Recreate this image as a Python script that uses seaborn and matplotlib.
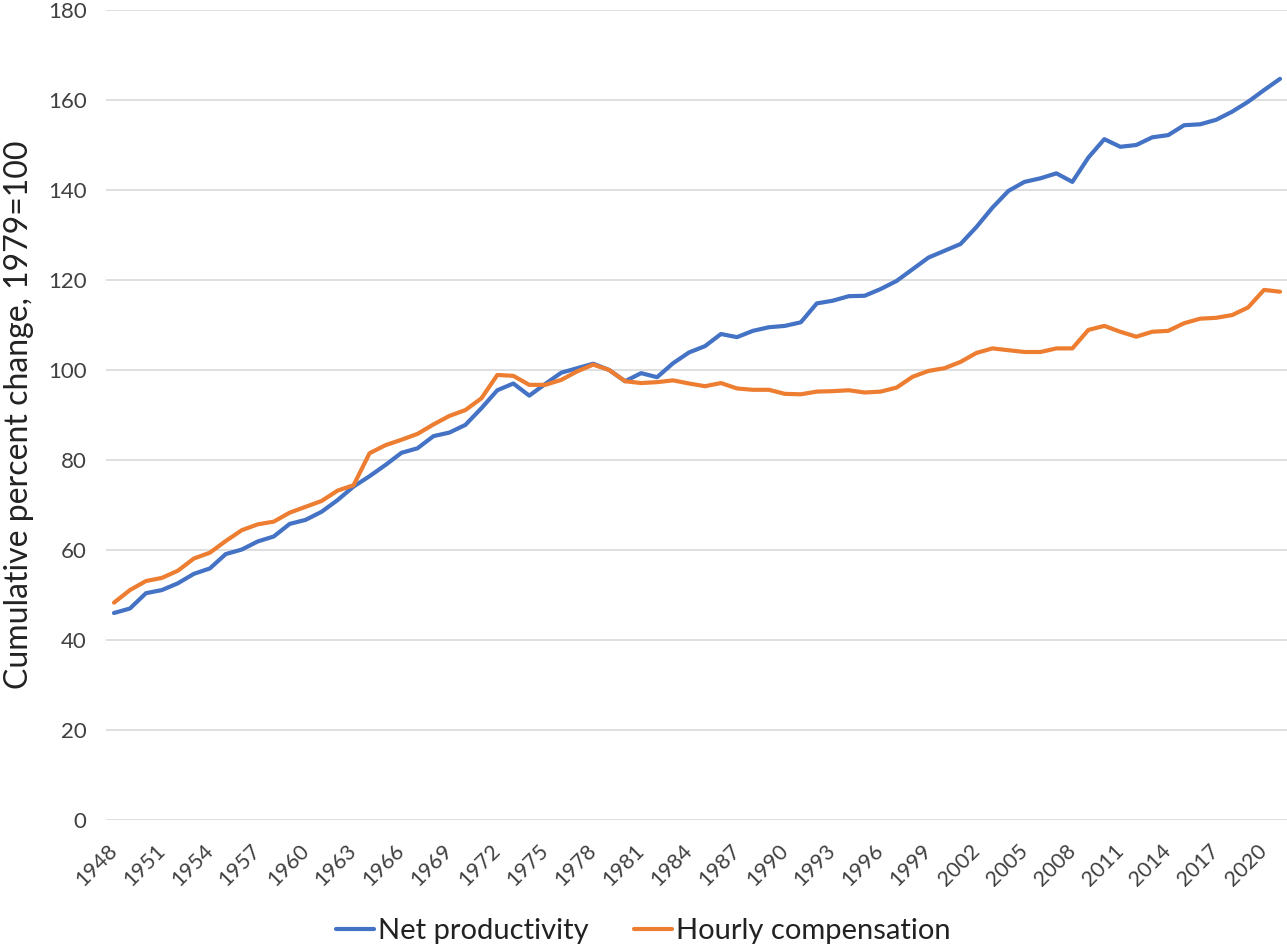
import matplotlib
matplotlib.use("Agg")
import matplotlib.pyplot as plt
import matplotlib.transforms as mtransforms
import seaborn as sns
import pandas as pd

years = list(range(1948, 2022))
net_productivity = [
    46.0, 47.0, 50.4, 51.1, 52.6, 54.7, 55.9, 59.1, 60.1, 61.9,
    63.0, 65.8, 66.7, 68.5, 71.1, 74.1, 76.4, 78.9, 81.6, 82.6,
    85.3, 86.1, 87.8, 91.5, 95.5, 97.0, 94.3, 96.9, 99.4, 100.4,
    101.4, 100.0, 97.5, 99.3, 98.4, 101.5, 103.9, 105.3, 108.0, 107.3,
    108.7, 109.5, 109.8, 110.6, 114.8, 115.4, 116.4, 116.5, 118.0, 119.8,
    122.4, 125.0, 126.5, 128.0, 131.8, 136.1, 139.8, 141.8, 142.6, 143.7,
    141.8, 147.2, 151.3, 149.6, 150.0, 151.7, 152.2, 154.4, 154.6, 155.6,
    157.4, 159.6, 162.2, 164.7,
]
hourly_compensation = [
    48.3, 51.1, 53.1, 53.8, 55.4, 58.1, 59.4, 62.0, 64.4, 65.7,
    66.3, 68.3, 69.6, 70.9, 73.2, 74.4, 81.5, 83.3, 84.5, 85.8,
    87.9, 89.8, 91.1, 93.7, 98.9, 98.7, 96.7, 96.7, 97.8, 99.7,
    101.2, 100.0, 97.5, 97.1, 97.3, 97.7, 97.0, 96.4, 97.1, 95.9,
    95.6, 95.6, 94.7, 94.6, 95.2, 95.3, 95.5, 95.0, 95.2, 96.1,
    98.5, 99.8, 100.4, 101.8, 103.8, 104.8, 104.4, 104.0, 104.0, 104.8,
    104.8, 108.9, 109.8, 108.5, 107.4, 108.5, 108.7, 110.4, 111.4, 111.6,
    112.2, 113.9, 117.8, 117.4,
]
series_names = ["Net productivity", "Hourly compensation"]
tick_years = list(range(1948, 2021, 3))
yticks = list(range(0, 181, 20))

df = pd.DataFrame({
    "year": years * 2,
    "value": net_productivity + hourly_compensation,
    "series": [series_names[0]] * len(years) + [series_names[1]] * len(years),
})

sns.set_theme(style="white")
plt.rcParams["font.family"] = ["Lato", "DejaVu Sans"]

fig = plt.figure(figsize=(12.87, 9.44), dpi=100)
ax = fig.add_axes([106 / 1287, 1 - 820 / 944, (1288 - 106) / 1287, (820 - 10) / 944])

palette = {series_names[0]: "#4472C4", series_names[1]: "#ED7D31"}
sns.lineplot(data=df, x="year", y="value", hue="series", palette=palette,
             linewidth=3.0, ax=ax, legend=True)

ax.set_xlim(1947.5, 2021.5)
ax.set_ylim(0, 180)
ax.set_yticks(yticks)
ax.set_xticks(tick_years)
ax.set_xticklabels([str(y) for y in tick_years], rotation=45, ha="right",
                   va="center", rotation_mode="anchor", fontsize=15.5, color="#404040")
offset = mtransforms.ScaledTranslation(8 / 100, -4 / 100, fig.dpi_scale_trans)
for lbl in ax.get_xticklabels():
    lbl.set_transform(lbl.get_transform() + offset)
ax.tick_params(axis="y", labelsize=16, colors="#404040", length=0, pad=14)
ax.tick_params(axis="x", length=0, pad=20)
ax.yaxis.grid(True, color="#D9D9D9", linewidth=1.2)
ax.xaxis.grid(False)
for s in ax.spines.values():
    s.set_visible(False)
ax.set_axisbelow(True)
ax.set_xlabel("")
ax.set_ylabel("Cumulative percent change, 1979=100", fontsize=23, color="#222222", labelpad=10)

handles, labels = ax.get_legend_handles_labels()
ax.get_legend().remove()
fig.legend(handles, labels, loc="lower center", bbox_to_anchor=(0.5, -0.028), ncol=2,
           frameon=False, fontsize=21, handlelength=1.3, handletextpad=0.15,
           columnspacing=1.55, labelcolor="#222222")

fig.savefig("out.png", dpi=100)
